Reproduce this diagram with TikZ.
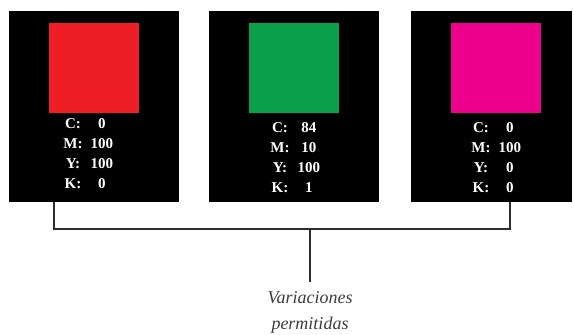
\documentclass[tikz,border=0pt]{standalone}
\usepackage{fontspec}
\usepackage{array}
\setmainfont{Liberation Serif}
\definecolor{cmykred}{HTML}{ED1F24}
\definecolor{cmykgreen}{HTML}{0BA04A}
\definecolor{cmykmagenta}{HTML}{EC008C}
\definecolor{connline}{HTML}{2E2E2E}
\definecolor{notetext}{HTML}{3C3C3C}
\newcommand{\cmykvals}[4]{%
  \fontsize{15}{20}\selectfont\bfseries
  \begin{tabular}{@{}>{\centering}p{22pt}@{\hspace{2pt}}>{\centering\arraybackslash}p{32pt}@{}}
    C: & #1\\ M: & #2\\ Y: & #3\\ K: & #4
  \end{tabular}}
\tikzset{
  panel/.style={fill=black, draw=none, inner sep=0pt, minimum height=191pt},
  swatch/.style={draw=none, inner sep=0pt, minimum width=90pt, minimum height=90pt},
  vals/.style={text=white, inner sep=0pt},
  conn/.style={draw=connline, line width=1.8pt},
  note/.style={text=notetext, align=center, inner sep=0pt,
    font=\fontsize{18}{26}\selectfont\itshape}
}
\begin{document}
\begin{tikzpicture}[x=1pt, y=-1pt]
\useasboundingbox (0,0) rectangle (574,335);
% three colour panels
\node[panel, minimum width=170pt] (box1) at (94,106.5) {};
\node[panel, minimum width=170pt] (box2) at (294,106.5) {};
\node[panel, minimum width=161pt] (box3) at (491.5,106.5) {};
\node[swatch, fill=cmykred] (sw1) at (94,68) {};
\node[swatch, fill=cmykgreen] (sw2) at (294,68) {};
\node[swatch, fill=cmykmagenta] (sw3) at (496,68) {};
\node[vals] (v1) at (90,154) {\cmykvals{0}{100}{100}{0}};
\node[vals] (v2) at (297,158) {\cmykvals{84}{10}{100}{1}};
\node[vals] (v3) at (498,158) {\cmykvals{0}{100}{0}{0}};
% bracket joining panels 1 and 3 to the note
\coordinate (t1) at ([xshift=45pt]box1.south west);
\coordinate (t3) at ([xshift=99pt]box3.south west);
\coordinate (hub) at (310,229);
\node[note, anchor=north] (lbl) at (310,291) {Variaciones\\permitidas};
\draw[conn] (t1) |- (hub) -| (t3);
\draw[conn] (hub) -- (310,282);
\end{tikzpicture}
\end{document}
